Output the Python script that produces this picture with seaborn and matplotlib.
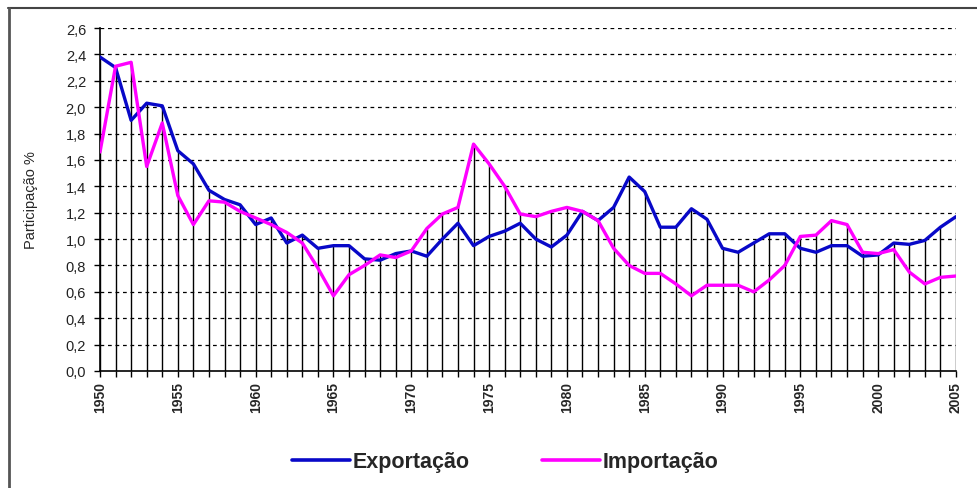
import numpy as np
import pandas as pd
import matplotlib
matplotlib.use('Agg')
import matplotlib.pyplot as plt
from matplotlib.lines import Line2D
import seaborn as sns

# Participação % (1950-2005)
anos = list(range(1950, 2006))
exportacao = [2.38, 2.30, 1.90, 2.03, 2.01, 1.67, 1.57, 1.37, 1.30, 1.26,
              1.11, 1.16, 0.97, 1.03, 0.93, 0.95, 0.95, 0.85, 0.84, 0.89,
              0.91, 0.87, 1.00, 1.12, 0.95, 1.02, 1.06, 1.12, 1.00, 0.94,
              1.03, 1.21, 1.14, 1.24, 1.47, 1.36, 1.09, 1.09, 1.23, 1.15,
              0.93, 0.90, 0.97, 1.04, 1.04, 0.93, 0.90, 0.95, 0.95, 0.87,
              0.88, 0.97, 0.96, 0.99, 1.09, 1.17]
importacao = [1.66, 2.31, 2.34, 1.55, 1.88, 1.33, 1.11, 1.29, 1.28, 1.21,
              1.16, 1.11, 1.05, 0.97, 0.78, 0.57, 0.73, 0.80, 0.88, 0.86,
              0.91, 1.08, 1.19, 1.24, 1.72, 1.57, 1.40, 1.19, 1.17, 1.21,
              1.24, 1.21, 1.14, 0.93, 0.80, 0.74, 0.74, 0.66, 0.57, 0.65,
              0.65, 0.65, 0.60, 0.69, 0.80, 1.02, 1.03, 1.14, 1.11, 0.90,
              0.89, 0.92, 0.75, 0.66, 0.71, 0.72]

df = pd.DataFrame({'Ano': anos * 2,
                   'Valor': exportacao + importacao,
                   'Serie': ['Exportação'] * len(anos) + ['Importação'] * len(anos)})

sns.set_style('white')
plt.rcParams['font.family'] = ['Liberation Sans', 'DejaVu Sans']

fig = plt.figure(figsize=(9.77, 4.89), dpi=100)
ax = fig.add_axes([100 / 977, 117 / 489, 856 / 977, 343 / 489])

cores = {'Exportação': '#0808C8', 'Importação': '#FF00FF'}

# drop lines up to the highest series
topo = np.maximum(exportacao, importacao)
ax.vlines(anos, 0, topo, color='black', linewidth=1, zorder=1)

sns.lineplot(data=df, x='Ano', y='Valor', hue='Serie', palette=cores,
             linewidth=2.4, legend=False, ax=ax, zorder=3)

ax.set_xlim(1950, 2005)
ax.set_ylim(0, 2.6)
yt = np.round(np.arange(0, 2.61, 0.2), 1)
ax.set_yticks(yt)
ax.set_yticklabels([f'{v:.1f}'.replace('.', ',') for v in yt], fontsize=10.5, color='#222222')
for v in yt[1:]:
    ax.axhline(v, color='black', linewidth=0.9, linestyle=(0, (3, 3)), zorder=0)

ax.set_xticks(list(range(1950, 2006, 5)))
ax.set_xticks(anos, minor=True)
ax.set_xticklabels([str(a) for a in range(1950, 2006, 5)], rotation=90,
                   fontsize=10, fontweight='bold')
ax.tick_params(axis='x', which='both', direction='out', length=4, width=1,
               color='black', bottom=True, pad=3)
ax.tick_params(axis='y', direction='out', length=4, width=1, color='black', left=True, pad=6)

for s in ['top', 'right']:
    ax.spines[s].set_visible(False)
for s in ['left', 'bottom']:
    ax.spines[s].set_color('black')
    ax.spines[s].set_linewidth(1.2)

ax.set_xlabel('')
ax.set_ylabel('Participação %', fontsize=10.5, labelpad=20)

handles = [Line2D([0], [0], color=cores[k], linewidth=2.6) for k in cores]
fig.legend(handles, list(cores.keys()), loc='center', bbox_to_anchor=(0.517, 26 / 489),
           ncol=2, frameon=False, handlelength=2.7, handletextpad=0.1, columnspacing=3.4,
           prop={'size': 15.5, 'weight': 'bold'})

# chart area border (top and left edges visible)
fig.add_artist(Line2D([8 / 977, 1], [1 - 9 / 489, 1 - 9 / 489], color='#444444', linewidth=1.5,
                      transform=fig.transFigure))
fig.add_artist(Line2D([9 / 977, 9 / 977], [0, 1 - 9 / 489], color='#555555', linewidth=2,
                      transform=fig.transFigure))

fig.savefig('out.png', dpi=100)
